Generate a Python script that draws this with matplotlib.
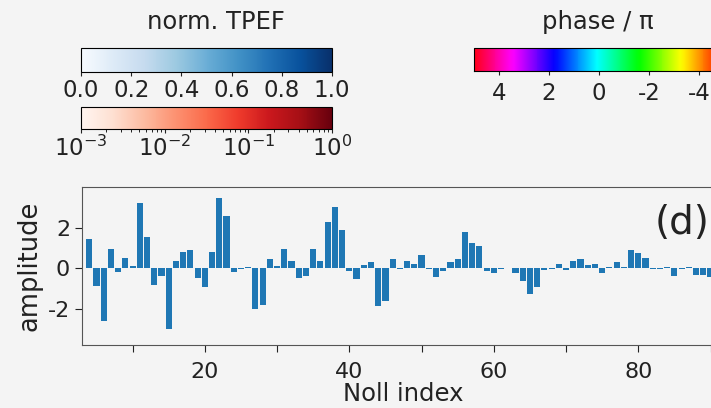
import numpy as np
import matplotlib
matplotlib.use('Agg')
import matplotlib.pyplot as plt
from matplotlib import cm
from matplotlib.colors import Normalize, LogNorm

# Zernike amplitudes, Noll index 4 .. 90
noll_first = 4
amplitude = [
    1.45, -0.90, -2.63, 0.94, -0.21, 0.48, 0.10, 3.20, 1.54, -0.84,
    -0.41, -3.00, 0.33, 0.80, 0.89, -0.51, -0.95, 0.80, 3.48, 2.55,
    -0.21, -0.05, 0.05, -2.02, -1.81, 0.43, 0.11, 0.95, 0.33, -0.49,
    -0.38, 0.95, 0.33, 2.25, 2.99, 1.89, -0.13, -0.54, 0.16, 0.28,
    -1.86, -1.65, 0.43, -0.03, 0.33, 0.18, 0.62, -0.03, -0.46, -0.13,
    0.30, 0.43, 1.78, 1.25, 1.10, -0.13, -0.23, -0.03, 0.02, -0.23,
    -0.64, -1.28, -0.95, -0.08, -0.05, 0.20, -0.08, 0.34, 0.46, 0.17,
    0.22, -0.23, 0.03, 0.32, 0.03, 0.90, 0.73, 0.51, -0.06, -0.05,
    0.03, -0.40, -0.03, 0.03, -0.34, -0.36, -0.44,
]
noll = np.arange(noll_first, noll_first + len(amplitude))

xticks = [10, 20, 30, 40, 50, 60, 70, 80, 90]
xticklabels = ['', '20', '', '40', '', '60', '', '80', '']
yticks = [-2, 0, 2]

tpef_ticks = [0.0, 0.2, 0.4, 0.6, 0.8, 1.0]
phase_ticks = [4, 2, 0, -2, -4]

plt.rcParams['font.family'] = 'DejaVu Sans'
plt.rcParams['axes.unicode_minus'] = False
bg = '#f4f4f4'
txt = '#222222'

fig = plt.figure(figsize=(7.11, 4.08), dpi=100, facecolor=bg)
W, H = 711.0, 408.0


def box(x0, y0, x1, y1):
    # pixel box (top-left origin) -> figure fraction rect
    return [x0 / W, 1 - y1 / H, (x1 - x0) / W, (y1 - y0) / H]


# colour bars on top
cax1 = fig.add_axes(box(81, 48, 332, 72))
cb1 = fig.colorbar(cm.ScalarMappable(Normalize(0, 1), 'Blues'), cax=cax1,
                   orientation='horizontal', ticks=tpef_ticks)
cb1.ax.set_xticklabels(['%.1f' % t for t in tpef_ticks])

cax2 = fig.add_axes(box(81, 107, 332, 129))
cb2 = fig.colorbar(cm.ScalarMappable(LogNorm(1e-3, 1), 'Reds'), cax=cax2,
                   orientation='horizontal')

cax3 = fig.add_axes(box(474, 48, 724, 71))
cb3 = fig.colorbar(cm.ScalarMappable(Normalize(-5, 5), 'hsv'), cax=cax3,
                   orientation='horizontal', ticks=phase_ticks)
cb3.ax.invert_xaxis()

for cb in (cb1, cb2, cb3):
    cb.ax.tick_params(labelsize=16.5, colors=txt, length=3, pad=2)
    cb.outline.set_linewidth(0.8)
cb2.ax.tick_params(which='minor', length=2)
cb3.ax.tick_params(pad=5)

fig.text(216 / W, 1 - 22 / H, 'norm. TPEF', ha='center', va='center',
         fontsize=17.5, color=txt)
fig.text(598 / W, 1 - 22 / H, 'phase / π', ha='center', va='center',
         fontsize=17.5, color=txt)

# amplitude bars
ax = fig.add_axes(box(82, 187, 725, 345))
ax.set_facecolor(bg)
ax.bar(noll, amplitude, width=0.85, color='#1f77b4')
ax.set_xlim(3, 92)
ax.set_ylim(-3.8, 4.0)
ax.set_xticks(xticks)
ax.set_xticklabels(xticklabels)
ax.set_yticks(yticks)
ax.tick_params(labelsize=16, colors=txt, length=5)
ax.tick_params(axis='x', pad=7)
for s in ax.spines.values():
    s.set_color('#555555')
ax.set_xlabel('Noll index', fontsize=17.5, color=txt, labelpad=0)
ax.set_ylabel('amplitude', fontsize=18.5, color=txt, labelpad=4)

fig.text(655 / W, 1 - 223 / H, '(d)', ha='left', va='center',
         fontsize=28, color=txt)

fig.savefig('out.png', dpi=100, facecolor=bg)
